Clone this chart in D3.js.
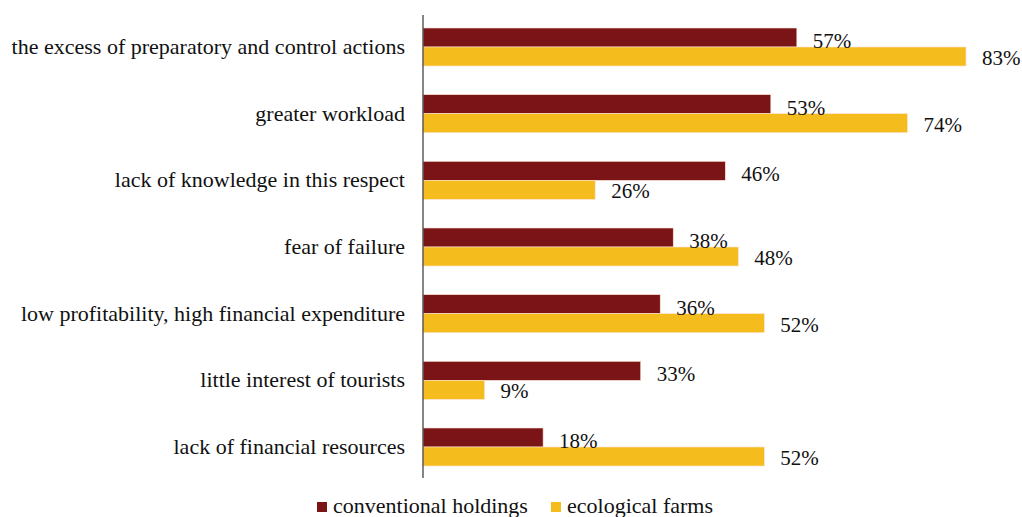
<!DOCTYPE html>
<html><head><meta charset="utf-8">
<script src="https://cdn.jsdelivr.net/npm/d3@7"></script>
<style>body{margin:0;background:#fff}</style>
</head><body>
<svg id="c" width="1022" height="517"></svg>
<script>
const categories = ["the excess of preparatory and control actions","greater workload","lack of knowledge in this respect","fear of failure","low profitability, high financial expenditure","little interest of tourists","lack of financial resources"];
const conventional = [57,53,46,38,36,33,18];
const ecological = [83,74,26,48,52,9,52];
const seriesNames = ["conventional holdings","ecological farms"];
const colors = ["#7b1416","#f5bc1e"];

const svg = d3.select("#c");
const font = "'Liberation Serif','Times New Roman',serif";
const x = d3.scaleLinear().domain([0,83]).range([426,966]);
const y = d3.scaleBand().domain(categories).range([14,480]).paddingInner(0.43).paddingOuter(0.21);
const sub = d3.scaleBand().domain([0,1]).range([0,y.bandwidth()]);

categories.forEach((c,i)=>{
  [conventional[i],ecological[i]].forEach((v,j)=>{
    svg.append("rect").attr("x",423).attr("y",y(c)+sub(j)).attr("width",x(v)-423).attr("height",sub.bandwidth())
      .attr("fill",colors[j]).attr("stroke","#fbe3cf").attr("stroke-width",0.6);
  });
});
categories.forEach((c,i)=>{
  [conventional[i],ecological[i]].forEach((v,j)=>{
    svg.append("text").attr("x",x(v)+16).attr("y",y(c)+sub(j)+sub.bandwidth()+(j===0?1:-1))
      .attr("font-family",font).attr("font-size",21).attr("fill","#111").text(v+"%");
  });
  svg.append("text").attr("x",405).attr("y",y(c)+y.bandwidth()/2).attr("dy","0.32em").attr("text-anchor","end")
    .attr("font-family",font).attr("font-size",22).attr("fill","#111").text(c);
});
svg.append("line").attr("x1",423).attr("x2",423).attr("y1",15).attr("y2",478).attr("stroke","#444").attr("stroke-width",1.3);

const lg=[{x:317,t:seriesNames[0],c:colors[0]},{x:551,t:seriesNames[1],c:colors[1]}];
lg.forEach(d=>{
  svg.append("rect").attr("x",d.x).attr("y",502).attr("width",10).attr("height",10).attr("fill",d.c);
  svg.append("text").attr("x",d.x+16).attr("y",513).attr("font-family",font).attr("font-size",22).attr("fill","#111").text(d.t);
});
</script>
</body></html>
